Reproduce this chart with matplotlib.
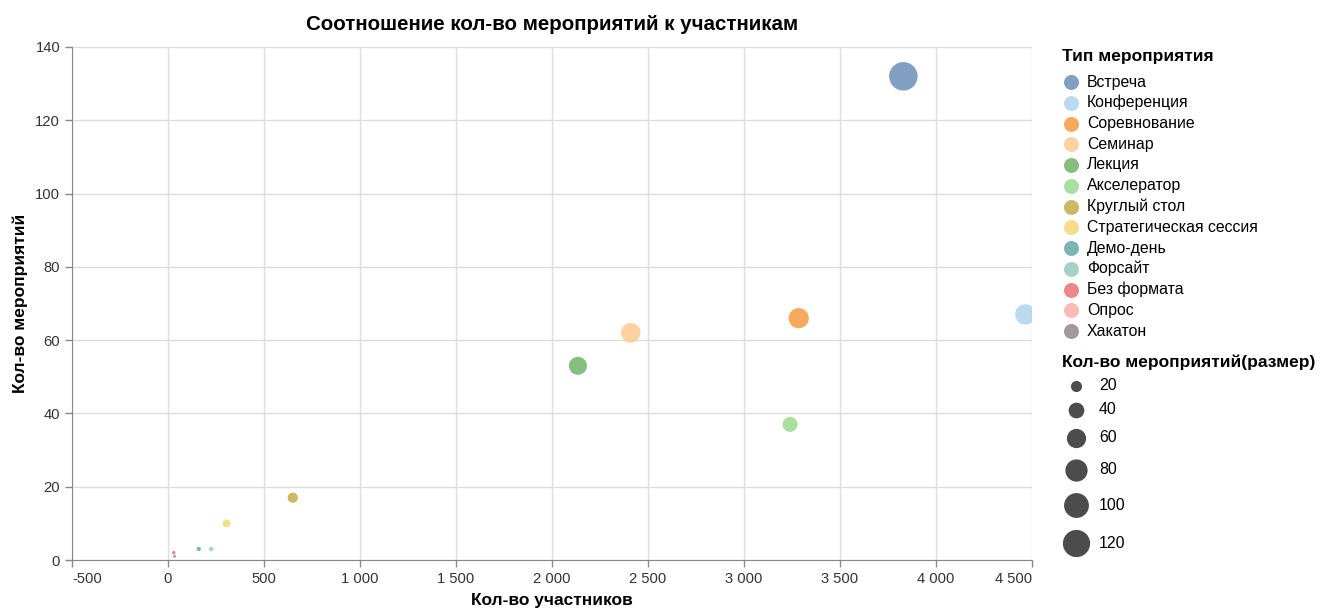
import matplotlib
matplotlib.use("Agg")
import matplotlib.pyplot as plt
import numpy as np

plt.rcParams["font.family"] = ["Liberation Sans", "DejaVu Sans"]

# event types, participants (x) and number of events (y, also size)
types = ["Встреча", "Конференция", "Соревнование", "Семинар", "Лекция",
         "Акселератор", "Круглый стол", "Стратегическая сессия", "Демо-день",
         "Форсайт", "Без формата", "Опрос", "Хакатон"]
participants = [3830, 4465, 3285, 2410, 2135, 3240, 650, 305, 160, 225, 30, 32, 35]
events = [132, 67, 66, 62, 53, 37, 17, 10, 3, 3, 2, 1, 1]
colors = ["#4c78a8", "#9ecae9", "#f58518", "#ffbf79", "#54a24b", "#88d27a",
          "#b79a20", "#f2cf5b", "#439894", "#83bcb6", "#e45756", "#ff9d98",
          "#79706e"]
size_legend_values = [20, 40, 60, 80, 100, 120]
x_ticks = [-500, 0, 500, 1000, 1500, 2000, 2500, 3000, 3500, 4000, 4500]
y_ticks = [0, 20, 40, 60, 80, 100, 120, 140]

W, H = 1321, 611
PX = 72 / 100  # points per pixel at dpi 100


def area_px(v):
    # vega-like linear size scale (symbol area in px^2), zero-based
    return np.asarray(v, dtype=float) / max(events) * 640


def mpl_size(v):
    d_px = 2 * np.sqrt(area_px(v) / np.pi)
    return (d_px * PX) ** 2


fig = plt.figure(figsize=(W / 100, H / 100), dpi=100)
ax = fig.add_axes([72 / W, (H - 560) / H, 960 / W, 513 / H])

ax.scatter(participants, events, s=mpl_size(events), c=colors, alpha=0.7,
           linewidths=0, zorder=3)

ax.set_xlim(-500, 4500)
ax.set_ylim(0, 140)
ax.set_xticks(x_ticks)
ax.set_yticks(y_ticks)
ax.set_xticklabels([f"{t:,}".replace(",", "\u00a0") for t in x_ticks])
ax.grid(True, color="#dddddd", linewidth=1, zorder=0)
ax.set_axisbelow(True)
for side in ["top", "right"]:
    ax.spines[side].set_visible(False)
for side in ["left", "bottom"]:
    ax.spines[side].set_color("#888888")
ax.tick_params(colors="#888888", labelcolor="#333333", labelsize=10.6,
               length=5, width=1)
# flush the outer x labels like vega does
xlabels = ax.get_xticklabels()
xlabels[0].set_horizontalalignment("left")
xlabels[-1].set_horizontalalignment("right")

ax.set_xlabel("Кол-во участников", fontsize=12.5, fontweight="bold", labelpad=5)
ax.set_ylabel("Кол-во мероприятий", fontsize=12.5, fontweight="bold", labelpad=5)
ax.set_title("Соотношение кол-во мероприятий к участникам", fontsize=14.8,
             fontweight="bold", pad=12)

# legends, drawn in a pixel-space overlay
lax = fig.add_axes([0, 0, 1, 1], zorder=5)
lax.set_xlim(0, W)
lax.set_ylim(H, 0)
lax.axis("off")

lax.text(1062, 56, "Тип мероприятия", fontsize=12.5, fontweight="bold",
         va="center", ha="left")
for i, (name, col) in enumerate(zip(types, colors)):
    yy = 82 + i * 20.75
    lax.scatter([1071], [yy], s=(15 * PX) ** 2, color=col, alpha=0.7,
                linewidths=0)
    lax.text(1087, yy, name, fontsize=11.4, va="center", ha="left",
             color="#000000")

lax.text(1062, 362, "Кол-во мероприятий(размер)", fontsize=12.5,
         fontweight="bold", va="center", ha="left")
size_rows = [386, 410, 438, 470, 505, 543]
for v, yy in zip(size_legend_values, size_rows):
    lax.scatter([1076], [yy], s=mpl_size([v]), color="black", alpha=0.7,
                linewidths=0)
    lax.text(1099, yy, str(v), fontsize=11.4, va="center", ha="left")

fig.savefig("out.png", dpi=100)
